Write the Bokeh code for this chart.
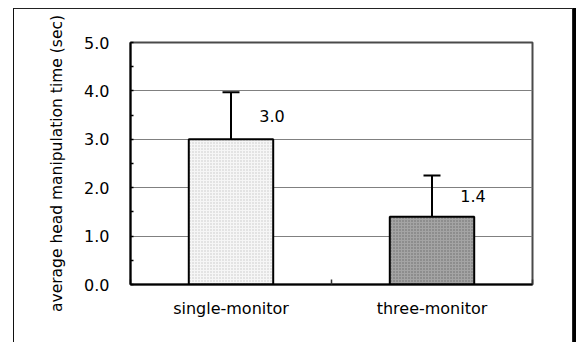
from bokeh.plotting import figure
from bokeh.models import (ColumnDataSource, FixedTicker, SingleIntervalTicker,
                          Range1d, NumeralTickFormatter)
from bokeh.core.properties import value
from bokeh.embed import file_html
from bokeh.resources import INLINE

# ---- data ----
categories = ["single-monitor", "three-monitor"]
means = [3.0, 1.4]
errors = [0.97, 0.85]
value_labels = ["3.0", "1.4"]
bar_fills = ["#f6f6f6", "#a4a4a4"]
bar_dots = ["#c4c4c4", "#6a6a6a"]
y_title = "average head manipulation time (sec)"

xpos = [i + 0.5 for i in range(len(categories))]
upper = [m + e for m, e in zip(means, errors)]
label_y = [m + e / 2 for m, e in zip(means, errors)]

src = ColumnDataSource(dict(x=xpos, mean=means, upper=upper, label_y=label_y,
                            label=value_labels, fill=bar_fills, dots=bar_dots))

FONT = value("DejaVu Sans")

p = figure(width=560, height=334, output_backend="svg", toolbar_location=None,
           x_range=Range1d(0, len(categories)), y_range=Range1d(0, 5),
           min_border_left=116, min_border_right=42, min_border_top=33,
           min_border_bottom=59)
p.styles = {"margin-left": "13px", "margin-top": "8px",
            "border-top": "1px solid #222",
            "border-left": "1px solid #111", "border-right": "1px solid #222",
            "box-shadow": "3px 0 0 0 #000"}

p.background_fill_color = "white"
p.border_fill_color = "white"
p.outline_line_color = "#4a4a4a"
p.outline_line_width = 2

# grid
p.xgrid.visible = False
p.ygrid.grid_line_color = "#808080"
p.ygrid.grid_line_width = 1

# bars
p.vbar(x="x", top="mean", bottom=0, width=0.42, source=src,
       fill_color="fill", line_color="black", line_width=2,
       hatch_pattern="dot", hatch_color="dots", hatch_scale=3, hatch_weight=1)

# error bars (upper half only)
p.segment(x0="x", y0="mean", x1="x", y1="upper", source=src,
          line_color="black", line_width=2)
p.scatter(x="x", y="upper", source=src, marker="dash", size=17,
          line_color="black", line_width=2)

# value labels
p.text(x="x", y="label_y", text="label", source=src, x_offset=41,
       text_align="center", text_baseline="middle", text_font=FONT,
       text_font_size="16px", text_color="black")

# y axis
ya = p.yaxis[0]
ya.ticker = SingleIntervalTicker(interval=1, num_minor_ticks=2)
ya.formatter = NumeralTickFormatter(format="0.0")
ya.axis_line_width = 2
ya.axis_line_color = "black"
ya.major_tick_in = 0
ya.major_tick_out = 0
ya.minor_tick_in = 3
ya.minor_tick_out = 0
ya.minor_tick_line_width = 1.5
ya.minor_tick_line_color = "black"
ya.major_label_standoff = 21
ya.major_label_text_font = "DejaVu Sans"
ya.major_label_text_font_size = "16px"
ya.major_label_text_color = "black"
ya.axis_label = y_title
ya.axis_label_text_font = "DejaVu Sans"
ya.axis_label_text_font_style = "normal"
ya.axis_label_text_font_size = "15.5px"
ya.axis_label_text_color = "black"
ya.axis_label_standoff = 15

# x axis
xa = p.xaxis[0]
xa.ticker = FixedTicker(ticks=xpos, minor_ticks=list(range(len(categories) + 1)))
xa.major_label_overrides = {x: c for x, c in zip(xpos, categories)}
xa.axis_line_width = 2
xa.axis_line_color = "black"
xa.major_tick_in = 0
xa.major_tick_out = 0
xa.minor_tick_in = 5
xa.minor_tick_out = 0
xa.minor_tick_line_width = 1.5
xa.minor_tick_line_color = "#333"
xa.major_label_standoff = 14
xa.major_label_text_font = "DejaVu Sans"
xa.major_label_text_font_size = "16px"
xa.major_label_text_color = "black"

open("out.html", "w").write(file_html(p, INLINE))
